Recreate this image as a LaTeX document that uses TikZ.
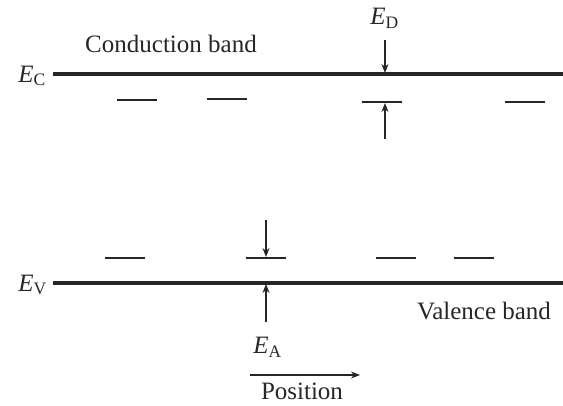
\documentclass[tikz,border=0pt]{standalone}
\usepackage{amsmath}
\usepackage{fontspec}
\setmainfont{Liberation Serif}
\usetikzlibrary{arrows.meta}

\begin{document}
\begin{tikzpicture}[
  x=0.4pt, y=-0.4pt,
  band/.style={line width=1.3pt, black!85},
  level/.style={line width=0.55pt, black!85},
  arrow/.style={-{Stealth[length=3.6pt, width=2.8pt]}, line width=0.45pt, black!85},
  lbl/.style={inner sep=0pt, text=black!85}
]
\useasboundingbox (0,0) rectangle (563,406);
% band edges
\coordinate (ecL) at (53,74);
\coordinate (ecR) at (563,74);
\coordinate (evL) at (53,283);
\coordinate (evR) at (563,283);
\draw[band] (ecL) -- (ecR);
\draw[band] (evL) -- (evR);
\node[lbl, anchor=east] (ec) at (47,76) {\textit{E}$_{\text{C}}$};
\node[lbl, anchor=east] (ev) at (48,285) {\textit{E}$_{\text{V}}$};
\node[lbl] (cond) at (171,44) {Conduction band};
\node[lbl] (val) at (484,311) {Valence band};
% donor and acceptor levels
\foreach \x/\y in {117/100, 207/99, 362/102, 505/102}
  \draw[level] (\x,\y) -- ++(40,0);
\foreach \x/\y in {105/258, 246/258, 376/258, 454/258}
  \draw[level] (\x,\y) -- ++(40,0);
% ionization energies
\node[lbl] (ed) at (385,18) {\textit{E}$_{\text{D}}$};
\coordinate (edtop) at (385,40);
\coordinate (edbot) at (385,139);
\draw[arrow] (edtop) -- (385,73);
\draw[arrow] (edbot) -- (385,103);
\coordinate (eatop) at (266,220);
\coordinate (eabot) at (266,322);
\draw[arrow] (eatop) -- (266,257);
\draw[arrow] (eabot) -- (266,284);
\node[lbl] (ea) at (268,347) {\textit{E}$_{\text{A}}$};
% position axis
\coordinate (posL) at (250,375);
\coordinate (posR) at (360,375);
\draw[arrow] (posL) -- (posR);
\node[lbl] (pos) at (302,391) {Position};
\end{tikzpicture}
\end{document}
